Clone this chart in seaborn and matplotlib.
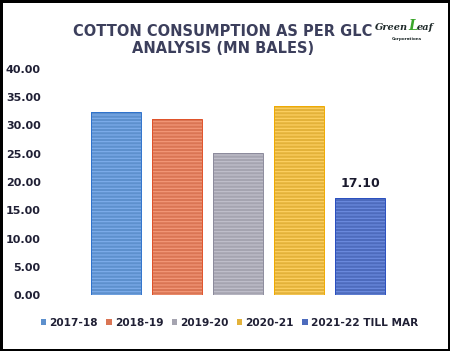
import pandas as pd
import seaborn as sns
import matplotlib.pyplot as plt

# Values (MN bales)
seasons = ["2017-18", "2018-19", "2019-20", "2020-21", "2021-22 TILL MAR"]
consumption = [32.3, 31.1, 25.1, 33.5, 17.1]
labelled_season = "2021-22 TILL MAR"
y_ticks = [0, 5, 10, 15, 20, 25, 30, 35, 40]

fill_colors = ["#4a8ee0", "#f06a3e", "#a3a2b2", "#ffbe1e", "#3a62d0"]
stripe_colors = ["#7eaeec", "#f49a7a", "#c2c1cd", "#ffd264", "#6d8ce0"]
edge_colors = ["#2f72cc", "#e0522a", "#8c8b9c", "#f0aa00", "#2a4fc0"]

df = pd.DataFrame({"season": seasons, "value": consumption})

sns.set_style("white")
plt.rcParams["font.family"] = ["DejaVu Sans"]
plt.rcParams["hatch.linewidth"] = 0.8

fig = plt.figure(figsize=(4.5, 3.51), dpi=100)
fig.patch.set_edgecolor("black")
fig.patch.set_linewidth(2.5)
ax = fig.add_axes([0.189, 0.1595, 0.679, 0.644])

ax = sns.barplot(
    data=df, x="season", y="value", hue="season",
    palette=dict(zip(seasons, fill_colors)), dodge=False, width=0.82,
    linewidth=0, legend=True, ax=ax,
)
# horizontal stripe texture
for patch, sc in zip(ax.patches, stripe_colors):
    patch.set_hatch("-----")
    patch.set_edgecolor(sc)

# thin darker outline
sns.barplot(
    data=df, x="season", y="value", hue="season",
    palette=dict(zip(seasons, edge_colors)), dodge=False, width=0.82,
    fill=False, linewidth=0.7, legend=False, ax=ax,
)

ax.set_ylim(0, 40)
ax.set_xlim(-0.5, len(seasons) - 0.5)
ax.set_yticks(y_ticks)
ax.set_yticklabels([f"{t:.2f}" for t in y_ticks], fontsize=8, fontweight="bold", color="#202035")
ax.tick_params(axis="y", length=0, pad=32)
ax.set_xticks([])
ax.set_xlabel("")
ax.set_ylabel("")
sns.despine(ax=ax, left=True, bottom=True)

# data label on the last bar
idx = seasons.index(labelled_season)
ax.annotate(f"{consumption[idx]:.2f}", (idx, consumption[idx]),
            xytext=(0, 6), textcoords="offset points", ha="center", va="bottom",
            fontsize=9, fontweight="bold", color="#1a1a2e")

leg = ax.legend(loc="center", bbox_to_anchor=(0.51, 0.08), bbox_transform=fig.transFigure,
                ncol=5, frameon=False, handlelength=0.5, handleheight=0.5,
                handletextpad=0.3, columnspacing=0.8, prop={"size": 7.6, "weight": "bold"})
for t in leg.get_texts():
    t.set_color("#202035")
for h in leg.legend_handles:
    h.set_hatch(None)
    h.set_linewidth(0)

fig.text(0.495, 0.886, "COTTON CONSUMPTION AS PER GLC\nANALYSIS (MN BALES)",
         ha="center", va="center", fontsize=10.5, fontweight="bold",
         color="#3c3f5c", linespacing=1.1)

# logo
fig.text(0.907, 0.915, "Green", ha="right", va="baseline", fontsize=7,
         family="serif", style="italic", fontweight="bold", color="#1f2a2a")
fig.text(0.907, 0.915, "L", ha="left", va="baseline", fontsize=10,
         family="serif", style="italic", fontweight="bold", color="#3aa62a")
fig.text(0.927, 0.915, "eaf", ha="left", va="baseline", fontsize=7,
         family="serif", style="italic", fontweight="bold", color="#1f2a2a")
fig.text(0.905, 0.89, "Corporations", ha="center", va="center", fontsize=3,
         fontweight="bold", color="#1f2a2a")

fig.savefig("out.png", dpi=100)
